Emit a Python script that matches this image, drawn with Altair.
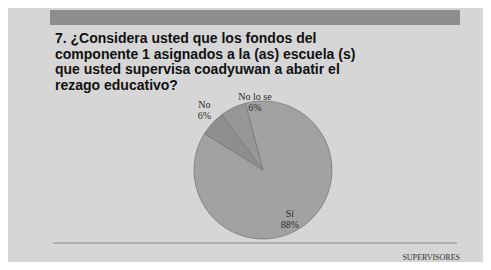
import altair as alt
import pandas as pd
import math

# ---- data ----
categories = ["Sí", "No", "No lo se"]
percents = [88, 6, 6]
title_lines = [
    "7. ¿Considera usted que los fondos del",
    "componente 1 asignados a la (as) escuela (s)",
    "que usted supervisa  coadyuwan a abatir el",
    "rezago educativo?",
]
footer_text = ["SUPERVISORES"]

W, H = 475, 254
CX, CY, R = 255, 162, 69
start = -0.26

pie_df = pd.DataFrame({"cat": categories, "pct": percents,
                       "lab": [f"{p}%" for p in percents], "order": [0, 1, 2]})
title_df = pd.DataFrame({"t": ["\n".join(title_lines)]})
one = pd.DataFrame({"k": [0]})
foot_df = pd.DataFrame({"t": footer_text})

theta_scale = alt.Scale(range=[start, start + 2 * math.pi])
colors = alt.Scale(domain=categories, range=["#a2a2a2", "#8e8e8e", "#979797"])

pie = alt.Chart(pie_df).mark_arc(radius=R, stroke="#7a7a7a", strokeWidth=0.8).encode(
    theta=alt.Theta("pct:Q", stack=True, scale=theta_scale),
    order=alt.Order("order:Q"),
    color=alt.Color("cat:N", scale=colors, legend=None),
    x=alt.value(CX), y=alt.value(CY),
)

pix_x = alt.Scale(domain=[0, W], range=[0, W])
pix_y = alt.Scale(domain=[0, H], range=[0, H])

def label_layers(cat, radius, dx, dy):
    layers = []
    for field, off in (("cat", -5), ("lab", 6)):
        layers.append(
            alt.Chart(pie_df).transform_window(
                cum="sum(pct)", sort=[alt.SortField("order")]
            ).transform_calculate(
                mid=f"({start} + 2*PI*(datum.cum - datum.pct/2)/100)",
                px=f"{CX} + {radius}*sin(datum.mid) + {dx}",
                py=f"{CY} - {radius}*cos(datum.mid) + {dy} + {off}",
            ).transform_filter(alt.datum.cat == cat).mark_text(
                font="Liberation Serif", fontSize=10, color="#2a2a2a"
            ).encode(
                x=alt.X("px:Q", scale=pix_x, axis=None),
                y=alt.Y("py:Q", scale=pix_y, axis=None),
                text=f"{field}:N",
            )
        )
    return layers

band = alt.Chart(one).mark_rect(color="#8d8d8d").encode(
    x=alt.value(42), x2=alt.value(452), y=alt.value(2), y2=alt.value(17))

title = alt.Chart(title_df).mark_text(
    align="left", baseline="top", font="Liberation Sans", fontWeight="bold",
    fontSize=14, color="#111111", lineBreak="\n", lineHeight=15.5
).encode(x=alt.value(47), y=alt.value(24), text="t:N")

rule = alt.Chart(one).mark_rule(color="#8a8a8a", strokeWidth=1).encode(
    x=alt.value(45), x2=alt.value(449), y=alt.value(235))

foot = alt.Chart(foot_df).mark_text(
    align="right", font="Liberation Serif", fontSize=8, color="#333333"
).encode(x=alt.value(452), y=alt.value(250), text="t:N")

layers = [band, title, rule, foot, pie]
layers += label_layers("Sí", 52, -4, 7)
layers += label_layers("No", 88, 6, 0)
layers += label_layers("No lo se", 74, 24, -1)

chart = alt.layer(*layers).properties(
    width=W, height=H, background="#d6d6d6", padding=0,
    autosize=alt.AutoSizeParams(type="none"),
).configure_view(stroke=None)

chart.save("out.html", embed_options={"renderer": "svg", "actions": False})
